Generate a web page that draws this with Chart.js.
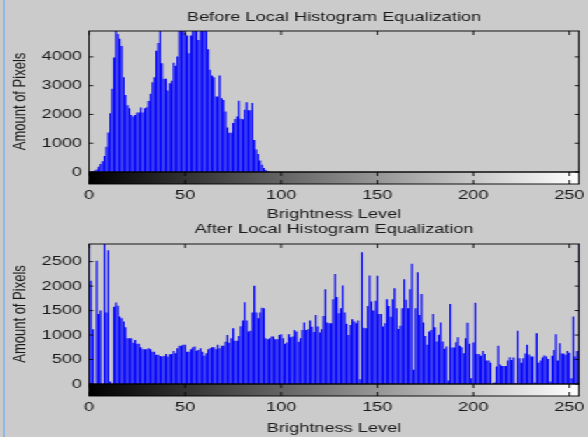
<!DOCTYPE html>
<html>
<head>
<meta charset="utf-8">
<title>Local Histogram Equalization</title>
<script src="https://cdn.jsdelivr.net/npm/chart.js@4.4.1/dist/chart.umd.min.js"></script>
<style>
  html, body { margin: 0; padding: 0; background: #cbcbcb; overflow: hidden; }
  #page { position: relative; width: 588px; height: 437px; }
  /* the source screenshot is stretched sideways, so draw narrow and scale */
  #stretch { position: absolute; left: 0; top: 0; width: 420px; height: 437px; transform: scaleX(1.4); transform-origin: 0 0; }
  #before { position: absolute; left: 0; top: 0; }
  #after { position: absolute; left: 0; top: 218px; }
  #edge { position: absolute; left: 3px; top: 0; width: 2px; height: 437px; background: #8fb9e4; }
</style>
</head>
<body>
<div id="page">
  <div id="stretch">
    <canvas id="before" width="420" height="224"></canvas>
    <canvas id="after" width="420" height="219"></canvas>
  </div>
  <div id="edge"></div>
</div>
<script>
// grey levels of an 8 bit image
const levels = Array.from({ length: 256 }, (_, i) => i);

// pixel counts per grey level, before local equalization
const beforeCounts = [
  0, 0, 20, 50, 90, 185, 280, 370, 560, 880,
  1370, 2040, 2890, 3980, 4900, 4800, 4630, 4380, 3290, 2680,
  2320, 2215, 1980, 1925, 1980, 2065, 2065, 2240, 2065, 2215,
  2250, 2470, 2715, 3120, 3295, 4210, 4480, 4900, 3780, 3240,
  3240, 2830, 3085, 3170, 3800, 3690, 4010, 4900, 4900, 4900,
  4830, 4740, 4130, 4740, 4900, 4900, 4900, 4590, 4900, 4900,
  4900, 4900, 4270, 3550, 3350, 3290, 2620, 2620, 3350, 2560,
  2500, 2100, 1550, 1360, 1360, 1700, 1840, 1930, 2480, 1850,
  1830, 2160, 2420, 2150, 2150, 2400, 1110, 780, 625, 400,
  250, 140, 70, 30, 10, 0, 0, 0, 0, 0,
  0, 0, 0, 0, 0, 0, 0, 0, 0, 0,
  0, 0, 0, 0, 0, 0, 0, 0, 0, 0,
  0, 0, 0, 0, 0, 0, 0, 0, 0, 0,
  0, 0, 0, 0, 0, 0, 0, 0, 0, 0,
  0, 0, 0, 0, 0, 0, 0, 0, 0, 0,
  0, 0, 0, 0, 0, 0, 0, 0, 0, 0,
  0, 0, 0, 0, 0, 0, 0, 0, 0, 0,
  0, 0, 0, 0, 0, 0, 0, 0, 0, 0,
  0, 0, 0, 0, 0, 0, 0, 0, 0, 0,
  0, 0, 0, 0, 0, 0, 0, 0, 0, 0,
  0, 0, 0, 0, 0, 0, 0, 0, 0, 0,
  0, 0, 0, 0, 0, 0, 0, 0, 0, 0,
  0, 0, 0, 0, 0, 0, 0, 0, 0, 0,
  0, 0, 0, 0, 0, 0, 0, 0, 0, 0,
  0, 0, 0, 0, 0, 0, 0, 0, 0, 0,
  0, 0, 0, 0, 0, 0
];

// pixel counts per grey level, after local equalization
const afterCounts = [
  2870, 2110, 1120, 0, 2520, 1430, 1500, 0, 2870, 1460,
  2730, 50, 0, 1580, 1665, 1600, 1380, 1345, 1275, 1160,
  935, 935, 935, 845, 900, 820, 820, 750, 710, 710,
  710, 730, 710, 660, 660, 595, 595, 570, 560, 570,
  615, 560, 610, 615, 675, 630, 730, 780, 780, 800,
  800, 660, 660, 710, 750, 765, 680, 695, 730, 660,
  575, 630, 710, 730, 750, 750, 710, 800, 730, 780,
  780, 865, 1000, 845, 935, 1140, 885, 885, 980, 1180,
  1295, 1670, 1295, 1070, 1090, 1460, 2005, 1460, 1345, 1460,
  1560, 1550, 935, 915, 935, 970, 970, 915, 915, 1000,
  1015, 935, 820, 850, 1015, 955, 970, 1105, 1070, 865,
  935, 1105, 1255, 1105, 1120, 1295, 1170, 1060, 1410, 1175,
  1050, 1120, 1390, 1935, 1255, 1240, 1240, 1730, 2245, 1775,
  1445, 1550, 2010, 1460, 1230, 1000, 1205, 1325, 1275, 1240,
  1295, 95, 2690, 1150, 1140, 1595, 2215, 1685, 1500, 1700,
  2210, 1430, 1430, 1175, 1240, 1730, 1595, 1375, 1730, 1955,
  1545, 1125, 1190, 1545, 2140, 1720, 1545, 1935, 2455, 290,
  1545, 2285, 1410, 1840, 1255, 980, 800, 1070, 1105, 1430,
  1160, 870, 1005, 1255, 870, 720, 765, 70, 1636, 745,
  745, 855, 955, 780, 750, 630, 935, 1250, 820, 115,
  850, 1660, 615, 615, 575, 675, 615, 480, 480, 435,
  0, 30, 355, 780, 400, 370, 370, 370, 480, 545,
  490, 540, 15, 1090, 525, 435, 525, 625, 800, 605,
  560, 560, 30, 1035, 435, 480, 540, 580, 560, 510,
  50, 575, 695, 1015, 480, 830, 625, 625, 595, 675,
  640, 115, 1380, 560, 675, 2870
];

// tick labels
const brightnessTicks = [0, 50, 100, 150, 200, 250];
const beforeTicks = [0, 1000, 2000, 3000, 4000];
const afterTicks = [0, 500, 1000, 1500, 2000, 2500];

const FONT = { family: "'Liberation Sans', Arial, sans-serif", size: 13, weight: 'normal' };
const INK = '#1a1a1a';
const STRIP = 12; // height of the grey colour strip under each axes

// box, inward ticks and the black-to-white strip, matlab imhist style
const matlabFrame = {
  id: 'matlabFrame',
  afterDraw(chart) {
    const { ctx, chartArea: a, scales: { x, y } } = chart;
    ctx.save();
    const g = ctx.createLinearGradient(x.getPixelForValue(0), 0, x.getPixelForValue(255), 0);
    g.addColorStop(0, '#000000');
    g.addColorStop(1, '#ffffff');
    ctx.fillStyle = g;
    ctx.fillRect(a.left, a.bottom, a.right - a.left, STRIP);

    ctx.strokeStyle = '#000';
    ctx.lineWidth = 0.9;
    ctx.strokeRect(a.left, a.top, a.right - a.left, a.bottom - a.top);
    ctx.strokeRect(a.left, a.bottom, a.right - a.left, STRIP);

    ctx.beginPath();
    x.ticks.forEach(t => {
      const px = x.getPixelForValue(t.value);
      ctx.moveTo(px, a.top); ctx.lineTo(px, a.top + 4);
      ctx.moveTo(px, a.bottom); ctx.lineTo(px, a.bottom + 4);
      ctx.moveTo(px, a.bottom + STRIP); ctx.lineTo(px, a.bottom + STRIP - 4);
    });
    y.ticks.forEach(t => {
      const py = y.getPixelForValue(t.value);
      ctx.moveTo(a.left, py); ctx.lineTo(a.left + 3, py);
      ctx.moveTo(a.right, py); ctx.lineTo(a.right - 3, py);
    });
    ctx.stroke();
    ctx.restore();
  }
};

function histogram(id, title, counts, yMax, yTicks, box) {
  return new Chart(document.getElementById(id), {
    type: 'bar',
    data: {
      datasets: [{
        data: levels.map((lv, i) => ({ x: lv, y: counts[i] })),
        backgroundColor: '#0000ff',
        borderWidth: 0,
        barPercentage: 0.9,
        categoryPercentage: 1
      }]
    },
    options: {
      responsive: false,
      animation: false,
      devicePixelRatio: 1,
      layout: { padding: { left: 0, right: 6.4, top: 0, bottom: 0 } },
      plugins: {
        legend: { display: false },
        tooltip: { enabled: false },
        title: {
          display: true,
          text: title,
          fullSize: false,
          color: INK,
          font: FONT,
          padding: { top: box.titleTop, bottom: box.titleBottom }
        }
      },
      scales: {
        x: {
          type: 'linear',
          min: 0,
          max: 255,
          offset: false,
          // invisible tick length pushes labels under the strip without widening the side padding
          grid: { display: false, drawTicks: true, tickLength: 15.2 },
          border: { display: false },
          afterBuildTicks: s => { s.ticks = brightnessTicks.map(v => ({ value: v })); },
          ticks: { color: INK, font: FONT, padding: 0, maxRotation: 0, autoSkip: false, callback: v => String(v) },
          title: { display: true, text: 'Brightness Level', color: INK, font: FONT, padding: { top: 0, bottom: box.xTitleBottom } },
          afterFit: s => { s.height = box.xHeight; }
        },
        y: {
          min: 0,
          max: yMax,
          grid: { display: false, drawTicks: false },
          border: { display: false },
          afterBuildTicks: s => { s.ticks = yTicks.map(v => ({ value: v })); },
          ticks: { color: INK, font: FONT, padding: 5, callback: v => String(v) },
          title: { display: true, text: 'Amount of Pixels', color: INK, font: FONT, padding: { top: 7, bottom: 0 } },
          afterFit: s => { s.width = 63.6; }
        }
      }
    },
    plugins: [matlabFrame]
  });
}

histogram('before', 'Before Local Histogram Equalization', beforeCounts, 4900, beforeTicks,
  { titleTop: 9.2, titleBottom: 6.2, xHeight: 52, xTitleBottom: 2.2 });
histogram('after', 'After Local Histogram Equalization', afterCounts, 2860, afterTicks,
  { titleTop: 3.2, titleBottom: 7.2, xHeight: 53, xTitleBottom: 1.2 });
</script>
</body>
</html>
